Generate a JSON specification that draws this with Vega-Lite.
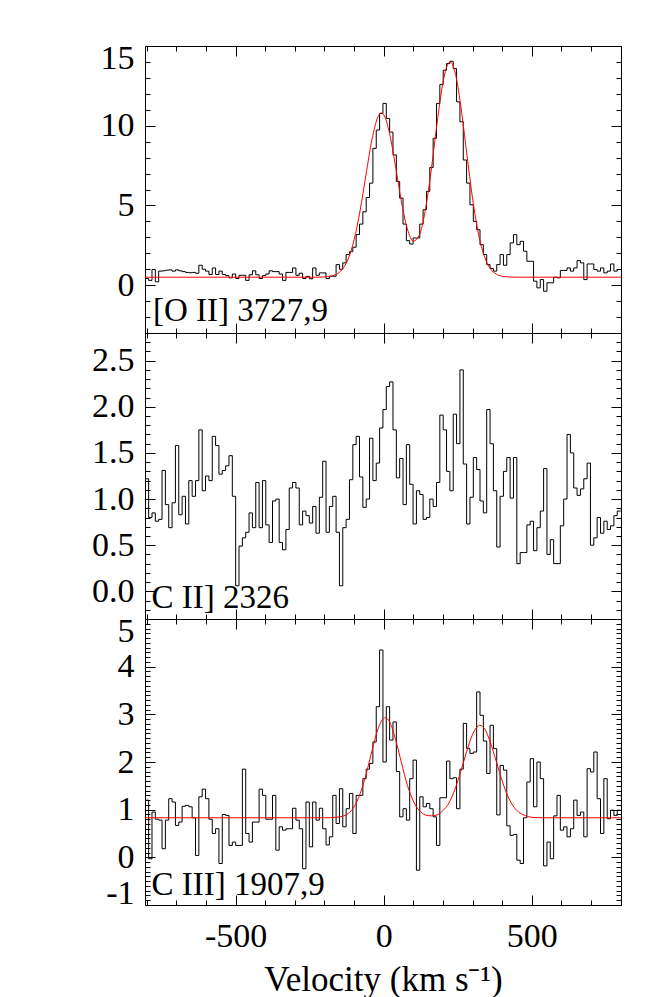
{
"$schema": "https://vega.github.io/schema/vega-lite/v6.json",
"padding": {"left": 91, "top": 40, "right": 5, "bottom": 0},
"config": {
  "font": "Liberation Serif",
  "view": {"stroke": "black", "strokeWidth": 1},
  "axis": {"domain": false, "grid": false, "labelFont": "Liberation Serif", "labelFontSize": 34, "labelColor": "black", "tickColor": "black", "tickWidth": 1, "titleFont": "Liberation Serif", "titleFontSize": 35, "titleFontWeight": "normal", "titleColor": "black", "labelOverlap": false, "labelBound": false, "labelFlushOffset": 5}
},
"datasets": {
"oii": [{"v":-805,"f":0.42},{"v":-793.7,"f":0.30},{"v":-782.4,"f":0.98},{"v":-771.1,"f":0.21},{"v":-759.8,"f":0.88},{"v":-748.5,"f":0.90},{"v":-737.2,"f":0.94},{"v":-725.9,"f":0.96},{"v":-714.6,"f":0.88},{"v":-703.3,"f":0.96},{"v":-692,"f":0.90},{"v":-680.7,"f":0.85},{"v":-669.4,"f":0.80},{"v":-658.1,"f":0.78},{"v":-646.8,"f":0.80},{"v":-635.5,"f":0.75},{"v":-624.2,"f":1.25},{"v":-612.9,"f":1.00},{"v":-601.6,"f":0.88},{"v":-590.3,"f":0.67},{"v":-579,"f":1.08},{"v":-567.7,"f":0.67},{"v":-556.4,"f":0.88},{"v":-545.1,"f":0.67},{"v":-533.8,"f":0.60},{"v":-522.5,"f":0.46},{"v":-511.2,"f":0.70},{"v":-499.9,"f":0.42},{"v":-488.6,"f":0.62},{"v":-477.3,"f":0.62},{"v":-466,"f":0.30},{"v":-454.7,"f":0.65},{"v":-443.4,"f":0.90},{"v":-432.1,"f":0.65},{"v":-420.8,"f":0.42},{"v":-409.5,"f":0.60},{"v":-398.2,"f":0.70},{"v":-386.9,"f":0.90},{"v":-375.6,"f":0.85},{"v":-364.3,"f":0.85},{"v":-353,"f":0.70},{"v":-341.7,"f":0.30},{"v":-330.4,"f":0.80},{"v":-319.1,"f":0.80},{"v":-307.8,"f":1.08},{"v":-296.5,"f":0.62},{"v":-285.2,"f":0.75},{"v":-273.9,"f":0.42},{"v":-262.6,"f":0.55},{"v":-251.3,"f":0.40},{"v":-240,"f":1.08},{"v":-228.7,"f":0.62},{"v":-217.4,"f":0.77},{"v":-206.1,"f":0.77},{"v":-194.8,"f":0.42},{"v":-183.5,"f":0.56},{"v":-172.2,"f":0.56},{"v":-160.9,"f":1.29},{"v":-149.6,"f":1.00},{"v":-138.3,"f":1.40},{"v":-127,"f":1.92},{"v":-115.7,"f":2.10},{"v":-104.4,"f":2.38},{"v":-93.1,"f":3.17},{"v":-81.8,"f":3.83},{"v":-70.5,"f":4.60},{"v":-59.2,"f":5.50},{"v":-47.9,"f":6.40},{"v":-36.6,"f":8.58},{"v":-25.3,"f":9.73},{"v":-14,"f":10.77},{"v":-2.7,"f":11.40},{"v":8.6,"f":10.46},{"v":19.9,"f":9.60},{"v":31.2,"f":8.17},{"v":42.5,"f":6.50},{"v":53.8,"f":5.46},{"v":65.1,"f":3.83},{"v":76.4,"f":2.79},{"v":87.7,"f":2.58},{"v":99,"f":2.96},{"v":110.3,"f":2.96},{"v":121.6,"f":3.83},{"v":132.9,"f":4.73},{"v":144.2,"f":5.88},{"v":155.5,"f":7.38},{"v":166.8,"f":9.21},{"v":178.1,"f":11.40},{"v":189.4,"f":12.58},{"v":200.7,"f":13.48},{"v":212,"f":13.90},{"v":223.3,"f":14.04},{"v":234.6,"f":13.58},{"v":245.9,"f":11.50},{"v":257.2,"f":10.25},{"v":268.5,"f":7.85},{"v":279.8,"f":6.40},{"v":291.1,"f":5.04},{"v":302.4,"f":4.00},{"v":313.7,"f":3.48},{"v":325,"f":2.54},{"v":336.3,"f":1.92},{"v":347.6,"f":1.29},{"v":358.9,"f":1.05},{"v":370.2,"f":0.88},{"v":381.5,"f":1.29},{"v":392.8,"f":1.92},{"v":404.1,"f":1.25},{"v":415.4,"f":1.92},{"v":426.7,"f":2.65},{"v":438,"f":3.17},{"v":449.3,"f":2.54},{"v":460.6,"f":2.75},{"v":471.9,"f":2.13},{"v":483.2,"f":1.50},{"v":494.5,"f":1.50},{"v":505.8,"f":0.25},{"v":517.1,"f":-0.17},{"v":528.4,"f":0.35},{"v":539.7,"f":-0.38},{"v":551,"f":0.15},{"v":562.3,"f":0.15},{"v":573.6,"f":0.50},{"v":584.9,"f":0.46},{"v":596.2,"f":0.92},{"v":607.5,"f":0.92},{"v":618.8,"f":1.08},{"v":630.1,"f":0.88},{"v":641.4,"f":1.08},{"v":652.7,"f":1.54},{"v":664,"f":1.40},{"v":675.3,"f":0.35},{"v":686.6,"f":1.33},{"v":697.9,"f":1.33},{"v":709.2,"f":0.98},{"v":720.5,"f":0.88},{"v":731.8,"f":1.08},{"v":743.1,"f":0.77},{"v":754.4,"f":0.88},{"v":765.7,"f":1.33},{"v":777,"f":0.88},{"v":788.3,"f":0.98},{"v":800,"f":0.98}],
"oiifit": [{"v":-806,"f":0.5},{"v":-260,"f":0.5},{"v":-220,"f":0.5},{"v":-200,"f":0.52},{"v":-180,"f":0.56},{"v":-160,"f":0.68},{"v":-140,"f":0.99},{"v":-120,"f":1.65},{"v":-100,"f":2.85},{"v":-80,"f":4.66},{"v":-60,"f":6.92},{"v":-40,"f":9.11},{"v":-20,"f":10.54},{"v":-8,"f":10.8},{"v":0,"f":10.69},{"v":20,"f":9.49},{"v":40,"f":7.43},{"v":60,"f":5.21},{"v":80,"f":3.52},{"v":100,"f":2.76},{"v":120,"f":3.13},{"v":140,"f":4.66},{"v":160,"f":7.17},{"v":180,"f":10.15},{"v":200,"f":12.71},{"v":210,"f":13.55},{"v":224,"f":14.0},{"v":240,"f":13.41},{"v":260,"f":11.26},{"v":280,"f":8.31},{"v":300,"f":5.42},{"v":320,"f":3.20},{"v":340,"f":1.79},{"v":360,"f":1.03},{"v":380,"f":0.69},{"v":400,"f":0.56},{"v":420,"f":0.52},{"v":450,"f":0.5},{"v":801,"f":0.5}],
"cii": [{"v":-805,"f":1.22},{"v":-793.7,"f":0.80},{"v":-782.4,"f":0.85},{"v":-771.1,"f":0.76},{"v":-759.8,"f":0.78},{"v":-748.5,"f":1.31},{"v":-737.2,"f":0.94},{"v":-725.9,"f":0.69},{"v":-714.6,"f":0.96},{"v":-703.3,"f":1.58},{"v":-692,"f":0.83},{"v":-680.7,"f":1.03},{"v":-669.4,"f":0.73},{"v":-658.1,"f":1.20},{"v":-646.8,"f":1.03},{"v":-635.5,"f":1.20},{"v":-624.2,"f":1.75},{"v":-612.9,"f":1.09},{"v":-601.6,"f":1.25},{"v":-590.3,"f":1.20},{"v":-579,"f":1.68},{"v":-567.7,"f":1.58},{"v":-556.4,"f":1.27},{"v":-545.1,"f":1.31},{"v":-533.8,"f":1.36},{"v":-522.5,"f":1.47},{"v":-511.2,"f":1.03},{"v":-499.9,"f":0.06},{"v":-488.6,"f":0.49},{"v":-477.3,"f":0.58},{"v":-466,"f":0.64},{"v":-454.7,"f":0.85},{"v":-443.4,"f":0.69},{"v":-432.1,"f":1.18},{"v":-420.8,"f":0.69},{"v":-409.5,"f":1.20},{"v":-398.2,"f":0.72},{"v":-386.9,"f":0.53},{"v":-375.6,"f":0.98},{"v":-364.3,"f":1.00},{"v":-353,"f":0.53},{"v":-341.7,"f":0.45},{"v":-330.4,"f":0.67},{"v":-319.1,"f":1.12},{"v":-307.8,"f":1.18},{"v":-296.5,"f":1.12},{"v":-285.2,"f":0.72},{"v":-273.9,"f":0.87},{"v":-262.6,"f":0.82},{"v":-251.3,"f":0.74},{"v":-240,"f":0.92},{"v":-228.7,"f":0.63},{"v":-217.4,"f":1.02},{"v":-206.1,"f":1.41},{"v":-194.8,"f":0.64},{"v":-183.5,"f":0.92},{"v":-172.2,"f":1.03},{"v":-160.9,"f":0.64},{"v":-149.6,"f":0.06},{"v":-138.3,"f":0.69},{"v":-127,"f":0.78},{"v":-115.7,"f":1.21},{"v":-104.4,"f":1.59},{"v":-93.1,"f":1.68},{"v":-81.8,"f":1.24},{"v":-70.5,"f":0.91},{"v":-59.2,"f":1.00},{"v":-47.9,"f":1.66},{"v":-36.6,"f":1.20},{"v":-25.3,"f":1.39},{"v":-14,"f":1.77},{"v":-2.7,"f":1.97},{"v":8.6,"f":2.22},{"v":19.9,"f":2.27},{"v":31.2,"f":1.75},{"v":42.5,"f":1.23},{"v":53.8,"f":1.44},{"v":65.1,"f":0.94},{"v":76.4,"f":1.59},{"v":87.7,"f":1.16},{"v":99,"f":0.73},{"v":110.3,"f":1.09},{"v":121.6,"f":1.05},{"v":132.9,"f":0.78},{"v":144.2,"f":0.80},{"v":155.5,"f":1.00},{"v":166.8,"f":0.92},{"v":178.1,"f":1.18},{"v":189.4,"f":1.91},{"v":200.7,"f":1.75},{"v":212,"f":1.30},{"v":223.3,"f":1.09},{"v":234.6,"f":1.92},{"v":245.9,"f":1.60},{"v":257.2,"f":2.40},{"v":268.5,"f":1.38},{"v":279.8,"f":0.73},{"v":291.1,"f":1.02},{"v":302.4,"f":1.45},{"v":313.7,"f":1.32},{"v":325,"f":0.98},{"v":336.3,"f":0.85},{"v":347.6,"f":1.97},{"v":358.9,"f":1.60},{"v":370.2,"f":1.09},{"v":381.5,"f":0.48},{"v":392.8,"f":1.03},{"v":404.1,"f":1.30},{"v":415.4,"f":1.45},{"v":426.7,"f":1.01},{"v":438,"f":1.45},{"v":449.3,"f":0.30},{"v":460.6,"f":0.42},{"v":471.9,"f":0.42},{"v":483.2,"f":0.72},{"v":494.5,"f":0.76},{"v":505.8,"f":0.44},{"v":517.1,"f":0.69},{"v":528.4,"f":0.87},{"v":539.7,"f":1.33},{"v":551,"f":0.40},{"v":562.3,"f":0.56},{"v":573.6,"f":0.30},{"v":584.9,"f":0.30},{"v":596.2,"f":0.71},{"v":607.5,"f":1.00},{"v":618.8,"f":1.70},{"v":630.1,"f":1.50},{"v":641.4,"f":1.12},{"v":652.7,"f":1.04},{"v":664,"f":1.11},{"v":675.3,"f":1.22},{"v":686.6,"f":1.39},{"v":697.9,"f":0.50},{"v":709.2,"f":0.58},{"v":720.5,"f":0.80},{"v":731.8,"f":0.63},{"v":743.1,"f":0.76},{"v":754.4,"f":0.67},{"v":765.7,"f":0.71},{"v":777,"f":0.82},{"v":788.3,"f":0.87},{"v":800,"f":0.87}],
"ciii": [{"v":-805,"f":1.20},{"v":-793.7,"f":-0.03},{"v":-782.4,"f":0.95},{"v":-771.1,"f":0.80},{"v":-759.8,"f":0.78},{"v":-748.5,"f":0.18},{"v":-737.2,"f":0.78},{"v":-725.9,"f":1.23},{"v":-714.6,"f":1.16},{"v":-703.3,"f":0.67},{"v":-692,"f":0.74},{"v":-680.7,"f":1.07},{"v":-669.4,"f":1.09},{"v":-658.1,"f":1.06},{"v":-646.8,"f":0.83},{"v":-635.5,"f":0.04},{"v":-624.2,"f":1.27},{"v":-612.9,"f":1.43},{"v":-601.6,"f":1.23},{"v":-590.3,"f":0.80},{"v":-579,"f":0.50},{"v":-567.7,"f":0.60},{"v":-556.4,"f":-0.13},{"v":-545.1,"f":0.90},{"v":-533.8,"f":0.88},{"v":-522.5,"f":0.25},{"v":-511.2,"f":0.32},{"v":-499.9,"f":0.25},{"v":-488.6,"f":0.25},{"v":-477.3,"f":1.85},{"v":-466,"f":0.50},{"v":-454.7,"f":0.32},{"v":-443.4,"f":0.74},{"v":-432.1,"f":0.74},{"v":-420.8,"f":1.43},{"v":-409.5,"f":1.30},{"v":-398.2,"f":0.80},{"v":-386.9,"f":0.80},{"v":-375.6,"f":1.30},{"v":-364.3,"f":0.15},{"v":-353,"f":0.64},{"v":-341.7,"f":0.57},{"v":-330.4,"f":0.60},{"v":-319.1,"f":0.60},{"v":-307.8,"f":1.03},{"v":-296.5,"f":0.78},{"v":-285.2,"f":0.60},{"v":-273.9,"f":-0.24},{"v":-262.6,"f":1.16},{"v":-251.3,"f":0.22},{"v":-240,"f":1.16},{"v":-228.7,"f":0.78},{"v":-217.4,"f":1.03},{"v":-206.1,"f":0.60},{"v":-194.8,"f":0.26},{"v":-183.5,"f":0.43},{"v":-172.2,"f":1.30},{"v":-160.9,"f":0.71},{"v":-149.6,"f":1.44},{"v":-138.3,"f":0.64},{"v":-127,"f":1.02},{"v":-115.7,"f":1.34},{"v":-104.4,"f":0.50},{"v":-93.1,"f":1.30},{"v":-81.8,"f":1.30},{"v":-70.5,"f":1.65},{"v":-59.2,"f":1.85},{"v":-47.9,"f":1.97},{"v":-36.6,"f":2.42},{"v":-25.3,"f":3.16},{"v":-14,"f":4.35},{"v":-2.7,"f":2.00},{"v":8.6,"f":3.16},{"v":19.9,"f":2.46},{"v":31.2,"f":2.84},{"v":42.5,"f":1.80},{"v":53.8,"f":0.85},{"v":65.1,"f":1.02},{"v":76.4,"f":0.78},{"v":87.7,"f":1.65},{"v":99,"f":2.04},{"v":110.3,"f":-0.27},{"v":121.6,"f":1.27},{"v":132.9,"f":1.06},{"v":144.2,"f":1.13},{"v":155.5,"f":1.02},{"v":166.8,"f":0.85},{"v":178.1,"f":0.25},{"v":189.4,"f":1.25},{"v":200.7,"f":1.25},{"v":212,"f":2.02},{"v":223.3,"f":1.65},{"v":234.6,"f":1.67},{"v":245.9,"f":1.02},{"v":257.2,"f":1.85},{"v":268.5,"f":2.81},{"v":279.8,"f":2.28},{"v":291.1,"f":2.18},{"v":302.4,"f":2.21},{"v":313.7,"f":3.47},{"v":325,"f":2.98},{"v":336.3,"f":2.44},{"v":347.6,"f":1.76},{"v":358.9,"f":2.77},{"v":370.2,"f":2.28},{"v":381.5,"f":0.89},{"v":392.8,"f":1.93},{"v":404.1,"f":1.83},{"v":415.4,"f":0.66},{"v":426.7,"f":0.46},{"v":438,"f":0.48},{"v":449.3,"f":-0.06},{"v":460.6,"f":-0.13},{"v":471.9,"f":0.83},{"v":483.2,"f":1.58},{"v":494.5,"f":2.07},{"v":505.8,"f":1.06},{"v":517.1,"f":2.00},{"v":528.4,"f":1.65},{"v":539.7,"f":-0.18},{"v":551,"f":0.32},{"v":562.3,"f":-0.03},{"v":573.6,"f":0.87},{"v":584.9,"f":1.30},{"v":596.2,"f":0.57},{"v":607.5,"f":0.64},{"v":618.8,"f":0.43},{"v":630.1,"f":0.60},{"v":641.4,"f":1.20},{"v":652.7,"f":0.88},{"v":664,"f":0.95},{"v":675.3,"f":0.43},{"v":686.6,"f":1.86},{"v":697.9,"f":1.79},{"v":709.2,"f":2.21},{"v":720.5,"f":1.23},{"v":731.8,"f":0.50},{"v":743.1,"f":1.65},{"v":754.4,"f":0.81},{"v":765.7,"f":0.99},{"v":777,"f":0.88},{"v":788.3,"f":0.99},{"v":800,"f":0.99}],
"ciiifit": [{"v":-806,"f":0.83},{"v":-200,"f":0.83},{"v":-160,"f":0.84},{"v":-140,"f":0.86},{"v":-120,"f":0.92},{"v":-100,"f":1.06},{"v":-80,"f":1.33},{"v":-60,"f":1.73},{"v":-40,"f":2.23},{"v":-20,"f":2.68},{"v":0,"f":2.92},{"v":5,"f":2.93},{"v":20,"f":2.84},{"v":40,"f":2.47},{"v":60,"f":1.98},{"v":80,"f":1.51},{"v":100,"f":1.18},{"v":120,"f":0.98},{"v":140,"f":0.89},{"v":160,"f":0.87},{"v":180,"f":0.89},{"v":200,"f":0.98},{"v":220,"f":1.14},{"v":240,"f":1.42},{"v":260,"f":1.80},{"v":280,"f":2.22},{"v":300,"f":2.58},{"v":320,"f":2.76},{"v":325,"f":2.77},{"v":340,"f":2.70},{"v":360,"f":2.41},{"v":380,"f":2.01},{"v":400,"f":1.60},{"v":420,"f":1.27},{"v":440,"f":1.05},{"v":460,"f":0.93},{"v":480,"f":0.87},{"v":500,"f":0.84},{"v":540,"f":0.83},{"v":801,"f":0.83}],
"lab1": [{"label": "[O II] 3727,9"}],
"lab2": [{"label": "C II] 2326"}],
"lab3": [{"label": "C III] 1907,9"}]
},
"spacing": 0,
"bounds": "flush",
"vconcat": [
{
  "width": 476, "height": 287,
  "resolve": {"axis": {"x": "independent", "y": "independent"}},
  "layer": [
    {
      "data": {"name": "oii"},
      "mark": {"type": "line", "interpolate": "step-after", "color": "black", "strokeWidth": 1, "clip": true},
      "encoding": {
        "x": {"field": "v", "type": "quantitative", "scale": {"domain": [-806, 801], "nice": false, "zero": false},
          "axis": {"orient": "bottom", "title": null, "labels": false, "values": [-800,-700,-600,-500,-400,-300,-200,-100,0,100,200,300,400,500,600,700,800], "tickSize": {"condition": {"test": "datum.value % 500 === 0", "value": -10}, "value": -5}}},
        "y": {"field": "f", "type": "quantitative", "scale": {"domain": [-3, 15], "nice": false, "zero": false},
          "axis": {"orient": "left", "title": null, "values": [-3,-2,-1,0,1,2,3,4,5,6,7,8,9,10,11,12,13,14,15], "tickSize": {"condition": {"test": "datum.value % 5 === 0", "value": -10}, "value": -5}, "labelExpr": "datum.value % 5 === 0 ? datum.label : ''", "labelFlush": true, "labelPadding": 21}}
      }
    },
    {
      "data": {"name": "oiifit"},
      "mark": {"type": "line", "interpolate": "monotone", "color": "#ff0000", "strokeWidth": 1, "clip": true},
      "encoding": {
        "x": {"field": "v", "type": "quantitative", "scale": {"domain": [-806, 801], "nice": false, "zero": false},
          "axis": {"orient": "top", "title": null, "labels": false, "values": [-800,-700,-600,-500,-400,-300,-200,-100,0,100,200,300,400,500,600,700,800], "tickSize": {"condition": {"test": "datum.value % 500 === 0", "value": -10}, "value": -5}}},
        "y": {"field": "f", "type": "quantitative", "scale": {"domain": [-3, 15], "nice": false, "zero": false},
          "axis": {"orient": "right", "title": null, "labels": false, "values": [-3,-2,-1,0,1,2,3,4,5,6,7,8,9,10,11,12,13,14,15], "tickSize": {"condition": {"test": "datum.value % 5 === 0", "value": -10}, "value": -5}}}
      }
    },
    {
      "data": {"name": "lab1"},
      "mark": {"type": "text", "align": "left", "baseline": "alphabetic", "fontSize": 33, "font": "Liberation Serif", "color": "black"},
      "encoding": {
        "x": {"datum": -779, "type": "quantitative", "scale": {"domain": [-806, 801], "nice": false, "zero": false}, "axis": null},
        "y": {"datum": -2.25, "type": "quantitative", "scale": {"domain": [-3, 15], "nice": false, "zero": false}, "axis": null},
        "text": {"field": "label"}
      }
    }
  ]
},
{
  "width": 476, "height": 286,
  "resolve": {"axis": {"x": "independent", "y": "independent"}},
  "layer": [
    {
      "data": {"name": "cii"},
      "mark": {"type": "line", "interpolate": "step-after", "color": "black", "strokeWidth": 1, "clip": true},
      "encoding": {
        "x": {"field": "v", "type": "quantitative", "scale": {"domain": [-806, 801], "nice": false, "zero": false},
          "axis": {"orient": "bottom", "title": null, "labels": false, "values": [-800,-700,-600,-500,-400,-300,-200,-100,0,100,200,300,400,500,600,700,800], "tickSize": {"condition": {"test": "datum.value % 500 === 0", "value": -10}, "value": -5}}},
        "y": {"field": "f", "type": "quantitative", "scale": {"domain": [-0.3, 2.8], "nice": false, "zero": false},
          "axis": {"orient": "left", "title": null, "values": [-0.3,-0.2,-0.1,0,0.1,0.2,0.3,0.4,0.5,0.6,0.7,0.8,0.9,1,1.1,1.2,1.3,1.4,1.5,1.6,1.7,1.8,1.9,2,2.1,2.2,2.3,2.4,2.5,2.6,2.7,2.8], "tickSize": {"condition": {"test": "abs(datum.value*2 - round(datum.value*2)) < 0.001", "value": -10}, "value": -5}, "labelExpr": "abs(datum.value*2 - round(datum.value*2)) < 0.001 ? format(datum.value, '.1f') : ''", "labelFlush": true, "labelPadding": 21}}
      }
    },
    {
      "data": {"name": "cii"},
      "mark": {"type": "line", "interpolate": "step-after", "color": "black", "strokeWidth": 1, "opacity": 0, "clip": true},
      "encoding": {
        "x": {"field": "v", "type": "quantitative", "scale": {"domain": [-806, 801], "nice": false, "zero": false},
          "axis": {"orient": "top", "title": null, "labels": false, "values": [-800,-700,-600,-500,-400,-300,-200,-100,0,100,200,300,400,500,600,700,800], "tickSize": {"condition": {"test": "datum.value % 500 === 0", "value": -10}, "value": -5}}},
        "y": {"field": "f", "type": "quantitative", "scale": {"domain": [-0.3, 2.8], "nice": false, "zero": false},
          "axis": {"orient": "right", "title": null, "labels": false, "values": [-0.3,-0.2,-0.1,0,0.1,0.2,0.3,0.4,0.5,0.6,0.7,0.8,0.9,1,1.1,1.2,1.3,1.4,1.5,1.6,1.7,1.8,1.9,2,2.1,2.2,2.3,2.4,2.5,2.6,2.7,2.8], "tickSize": {"condition": {"test": "abs(datum.value*2 - round(datum.value*2)) < 0.001", "value": -10}, "value": -5}}}
      }
    },
    {
      "data": {"name": "lab2"},
      "mark": {"type": "text", "align": "left", "baseline": "alphabetic", "fontSize": 33, "font": "Liberation Serif", "color": "black"},
      "encoding": {
        "x": {"datum": -784, "type": "quantitative", "scale": {"domain": [-806, 801], "nice": false, "zero": false}, "axis": null},
        "y": {"datum": -0.18, "type": "quantitative", "scale": {"domain": [-0.3, 2.8], "nice": false, "zero": false}, "axis": null},
        "text": {"field": "label"}
      }
    }
  ]
},
{
  "width": 476, "height": 286,
  "resolve": {"axis": {"x": "independent", "y": "independent"}},
  "layer": [
    {
      "data": {"name": "ciii"},
      "mark": {"type": "line", "interpolate": "step-after", "color": "black", "strokeWidth": 1, "clip": true},
      "encoding": {
        "x": {"field": "v", "type": "quantitative", "scale": {"domain": [-806, 801], "nice": false, "zero": false},
          "axis": {"orient": "bottom", "title": "Velocity (km s⁻¹)", "titlePadding": 4, "values": [-800,-700,-600,-500,-400,-300,-200,-100,0,100,200,300,400,500,600,700,800], "tickSize": {"condition": {"test": "datum.value % 500 === 0", "value": -10}, "value": -5}, "labelExpr": "datum.value % 500 === 0 ? (datum.value < 0 ? '-' + abs(datum.value) : '' + datum.value) : ''", "labelPadding": 24}},
        "y": {"field": "f", "type": "quantitative", "scale": {"domain": [-1, 5], "nice": false, "zero": false},
          "axis": {"orient": "left", "title": null, "values": [-1,-0.9,-0.8,-0.7,-0.6,-0.5,-0.4,-0.3,-0.2,-0.1,0,0.1,0.2,0.3,0.4,0.5,0.6,0.7,0.8,0.9,1,1.1,1.2,1.3,1.4,1.5,1.6,1.7,1.8,1.9,2,2.1,2.2,2.3,2.4,2.5,2.6,2.7,2.8,2.9,3,3.1,3.2,3.3,3.4,3.5,3.6,3.7,3.8,3.9,4,4.1,4.2,4.3,4.4,4.5,4.6,4.7,4.8,4.9,5], "tickSize": {"condition": {"test": "abs(datum.value - round(datum.value)) < 0.001", "value": -10}, "value": -5}, "labelExpr": "abs(datum.value - round(datum.value)) < 0.001 ? (datum.value < 0 ? '-' + abs(round(datum.value)) : '' + round(datum.value)) : ''", "labelFlush": true, "labelPadding": 21}}
      }
    },
    {
      "data": {"name": "ciiifit"},
      "mark": {"type": "line", "interpolate": "monotone", "color": "#ff0000", "strokeWidth": 1, "clip": true},
      "encoding": {
        "x": {"field": "v", "type": "quantitative", "scale": {"domain": [-806, 801], "nice": false, "zero": false},
          "axis": {"orient": "top", "title": null, "labels": false, "values": [-800,-700,-600,-500,-400,-300,-200,-100,0,100,200,300,400,500,600,700,800], "tickSize": {"condition": {"test": "datum.value % 500 === 0", "value": -10}, "value": -5}}},
        "y": {"field": "f", "type": "quantitative", "scale": {"domain": [-1, 5], "nice": false, "zero": false},
          "axis": {"orient": "right", "title": null, "labels": false, "values": [-1,-0.9,-0.8,-0.7,-0.6,-0.5,-0.4,-0.3,-0.2,-0.1,0,0.1,0.2,0.3,0.4,0.5,0.6,0.7,0.8,0.9,1,1.1,1.2,1.3,1.4,1.5,1.6,1.7,1.8,1.9,2,2.1,2.2,2.3,2.4,2.5,2.6,2.7,2.8,2.9,3,3.1,3.2,3.3,3.4,3.5,3.6,3.7,3.8,3.9,4,4.1,4.2,4.3,4.4,4.5,4.6,4.7,4.8,4.9,5], "tickSize": {"condition": {"test": "abs(datum.value - round(datum.value)) < 0.001", "value": -10}, "value": -5}}}
      }
    },
    {
      "data": {"name": "lab3"},
      "mark": {"type": "text", "align": "left", "baseline": "alphabetic", "fontSize": 33, "font": "Liberation Serif", "color": "black"},
      "encoding": {
        "x": {"datum": -784, "type": "quantitative", "scale": {"domain": [-806, 801], "nice": false, "zero": false}, "axis": null},
        "y": {"datum": -0.8, "type": "quantitative", "scale": {"domain": [-1, 5], "nice": false, "zero": false}, "axis": null},
        "text": {"field": "label"}
      }
    }
  ]
}
]
}
